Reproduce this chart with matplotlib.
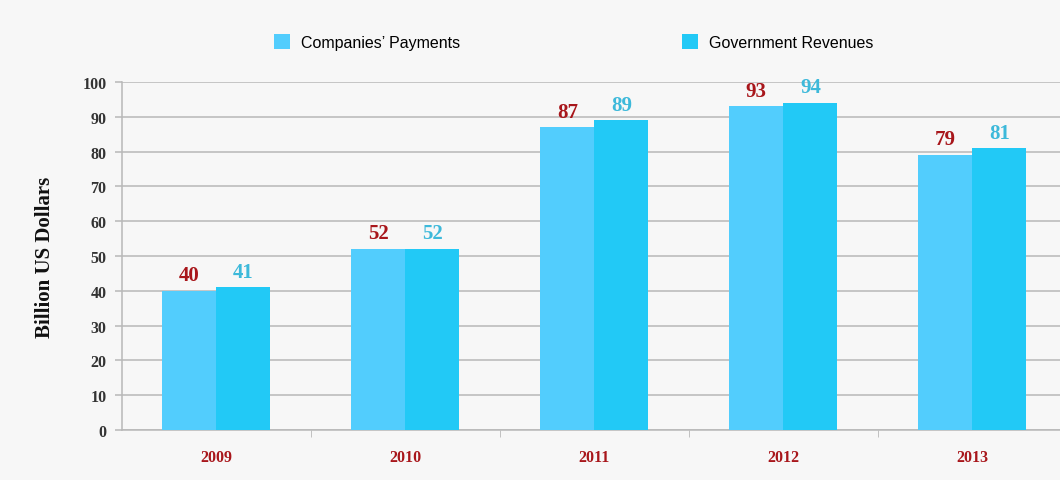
import numpy as np
import matplotlib
matplotlib.use("Agg")
import matplotlib.pyplot as plt
from matplotlib.ticker import FixedLocator

# Payments vs. revenues by year (billion US$)
years = ["2009", "2010", "2011", "2012", "2013"]
payments = [40, 52, 87, 93, 79]
revenues = [41, 52, 89, 94, 81]
series_names = ["Companies\u2019 Payments", "Government Revenues"]

pay_color = "#52CDFD"
rev_color = "#22C9F6"
pay_text = "#A8161B"
rev_text = "#3DB9DA"
grid_color = "#B8B8B8"
serif = ["Liberation Serif", "DejaVu Serif"]

fig = plt.figure(figsize=(10.6, 4.81), dpi=100)
fig.patch.set_facecolor("#F7F7F7")
ax = fig.add_axes([0.115, 0.104, 0.8915, 0.7235])
ax.set_facecolor("#F7F7F7")

x = np.arange(len(years))
w = 0.286
b1 = ax.bar(x - w / 2, payments, w, color=pay_color, label=series_names[0], zorder=3)
b2 = ax.bar(x + w / 2, revenues, w, color=rev_color, label=series_names[1], zorder=3)

# value labels above bars
for rect, v in zip(b1, payments):
    ax.annotate(str(v), (rect.get_x() + rect.get_width() / 2, v), xytext=(0, 4),
                textcoords="offset points", ha="center", va="bottom",
                fontsize=15, fontweight="bold", color=pay_text, family=serif)
for rect, v in zip(b2, revenues):
    ax.annotate(str(v), (rect.get_x() + rect.get_width() / 2, v), xytext=(0, 4),
                textcoords="offset points", ha="center", va="bottom",
                fontsize=15, fontweight="bold", color=rev_text, family=serif)

ax.set_xlim(-0.5, len(years) - 0.5)
ax.set_ylim(0, 100)
ax.set_yticks(np.arange(0, 101, 10))
ax.yaxis.grid(True, color=grid_color, linewidth=1.1, zorder=0)
ax.set_axisbelow(True)

ax.set_xticks(x)
ax.set_xticklabels(years, fontsize=11.5, fontweight="bold", color=pay_text, family=serif)
ax.xaxis.set_minor_locator(FixedLocator(x[1:] - 0.5))
ax.tick_params(axis="x", which="major", length=0, pad=14)
ax.tick_params(axis="x", which="minor", length=5, color=grid_color, direction="out")
ax.tick_params(axis="y", length=5, color=grid_color, width=1.1, pad=6)
for lbl in ax.get_yticklabels():
    lbl.set_fontweight("bold")
    lbl.set_fontsize(11.5)
    lbl.set_color("#333333")
    lbl.set_family(serif)

for side in ["top", "right"]:
    ax.spines[side].set_visible(False)
for side in ["left", "bottom"]:
    ax.spines[side].set_color(grid_color)
    ax.spines[side].set_linewidth(1.1)

ax.set_ylabel("Billion US Dollars", fontsize=15, fontweight="bold", family=serif,
              color="#111111", labelpad=20)

leg = fig.legend(handles=[b1, b2], loc="center", bbox_to_anchor=(0.541, 0.911), ncol=2,
                 frameon=False, handlelength=1.0, handleheight=1.1,
                 handletextpad=0.7, columnspacing=13.9,
                 prop={"family": ["Liberation Sans", "DejaVu Sans"], "size": 11.5})

fig.savefig("out.png", dpi=100, facecolor=fig.get_facecolor())
